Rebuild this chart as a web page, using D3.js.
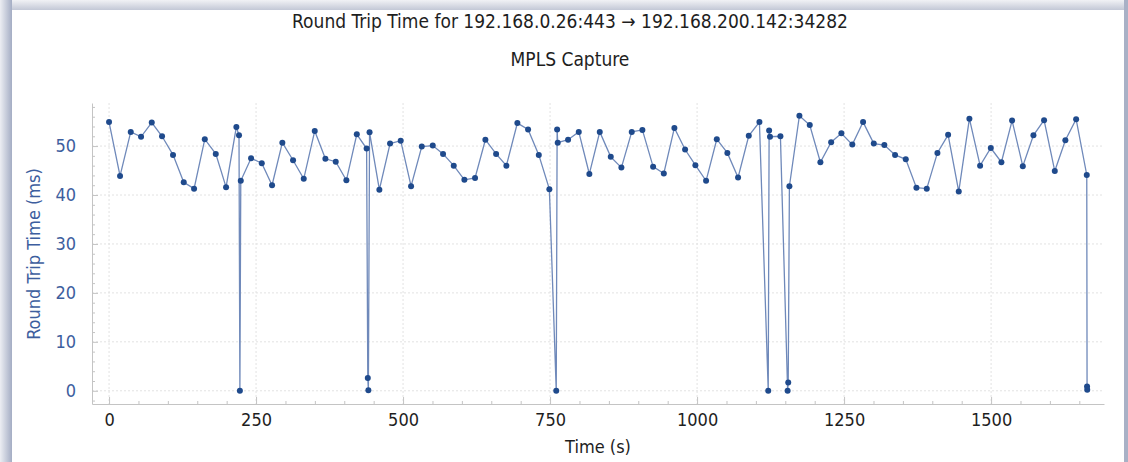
<!DOCTYPE html>
<html>
<head>
<meta charset="utf-8">
<script src="https://cdn.jsdelivr.net/npm/d3@7"></script>
<style>
  body { margin: 0; background: #fff; }
  svg { display: block; }
  .lbl { font-family: "DejaVu Sans Condensed", "DejaVu Sans", sans-serif; font-stretch: condensed; }
</style>
</head>
<body>
<svg class="chart"></svg>
<script>
var width = 1128, height = 462;

// time (s) of each sample
var times = [0, 18.7, 36.9, 54.4, 72.6, 90.1, 108.8, 127, 144.6, 162.8, 181.5, 199,
  216.5, 221, 222.5, 224,
  241.5, 259.7, 277.2, 294.7, 312.9, 331.1, 349.8, 367.9, 385.5, 403.6,
  421.3, 438, 440, 441, 443,
  459.7, 477.9, 496, 513.6, 531.8, 550.5, 568, 586.2, 604.3, 622.4, 640, 658.2, 675.7, 694.4, 712.6, 730.8, 748.8,
  760.5, 762, 763,
  780.6, 798.8, 816.8, 834.5, 853.2, 871.3, 888.9, 907, 925.2, 943.4, 961.4, 979.6, 997.1, 1015.3, 1033.5, 1051.5, 1069.7, 1087.9, 1106,
  1121, 1122.5, 1124, 1141.7,
  1154, 1155, 1157,
  1174, 1191.6, 1209.7, 1228, 1245.4,
  1264, 1282.3, 1300.5, 1318.5, 1336.7, 1354.9, 1373, 1390.6, 1408.7, 1426.9, 1445, 1463.1, 1481.3, 1499.5, 1517.5, 1535.7, 1553.9, 1572, 1590.1, 1608.3, 1626.3, 1644.6,
  1662.7, 1663.2, 1663.5];

// round trip time (ms)
var rtt = [54.9, 43.9, 52.9, 51.9, 54.8, 52, 48.2, 42.6, 41.3, 51.4, 48.4, 41.6,
  53.9, 52.2, 0, 42.9,
  47.5, 46.5, 42, 50.7, 47.1, 43.3, 53.1, 47.4, 46.8, 43,
  52.4, 49.5, 2.6, 0.1, 52.8,
  41.1, 50.5, 51.1, 41.8, 49.9, 50.1, 48.4, 46, 43.1, 43.5, 51.3, 48.4, 46, 54.7, 53.4, 48.2, 41.2,
  0, 53.4, 50.7,
  51.3, 52.9, 44.3, 52.9, 47.8, 45.6, 52.9, 53.3, 45.8, 44.4, 53.7, 49.3, 46.1, 42.9, 51.4, 48.6, 43.6, 52.1, 54.9,
  0, 53.2, 51.9, 52,
  0, 1.7, 41.8,
  56.2, 54.3, 46.7, 50.8, 52.6,
  50.3, 54.9, 50.5, 50.2, 48.2, 47.3, 41.5, 41.3, 48.6, 52.3, 40.7, 55.6, 46, 49.6, 46.7, 55.2, 45.9, 52.2, 55.3, 44.9, 51.2, 55.5,
  44.1, 0.9, 0.2];

var xTicks = [0, 250, 500, 750, 1000, 1250, 1500];
var yTicks = [0, 10, 20, 30, 40, 50];

var title = "Round Trip Time for 192.168.0.26:443 \u2192 192.168.200.142:34282";
var subtitle = "MPLS Capture";

var data = times.map(function(t, i) { return {t: t, v: rtt[i]}; });

var x = d3.scaleLinear().domain([-29, 1692]).range([92, 1104]);
var y = d3.scaleLinear().domain([-2.7, 58.8]).range([404, 103]);

var svg = d3.select(".chart")
    .attr("width", width)
    .attr("height", height);

// window frame
var defs = svg.append("defs");
var gl = defs.append("linearGradient").attr("id", "gl").attr("x1", 0).attr("x2", 1).attr("y1", 0).attr("y2", 0);
gl.append("stop").attr("offset", "0%").attr("stop-color", "#eceef3");
gl.append("stop").attr("offset", "100%").attr("stop-color", "#a4adc4");
var gt = defs.append("linearGradient").attr("id", "gt").attr("x1", 0).attr("x2", 0).attr("y1", 0).attr("y2", 1);
gt.append("stop").attr("offset", "0%").attr("stop-color", "#f1f2f5");
gt.append("stop").attr("offset", "100%").attr("stop-color", "#c3c8d6");

svg.append("rect").attr("width", width).attr("height", 10).attr("fill", "url(#gt)");
svg.append("rect").attr("width", 12).attr("height", height).attr("fill", "url(#gl)");
svg.append("rect").attr("x", 1124).attr("width", 4).attr("height", height).attr("fill", "#a9b1c6");

// grid
svg.append("g").selectAll("line").data(yTicks).enter().append("line")
    .attr("x1", 92).attr("x2", 1104)
    .attr("y1", function(d) { return y(d); }).attr("y2", function(d) { return y(d); })
    .attr("stroke", "#e2e2e2").attr("stroke-dasharray", "2,2");
svg.append("g").selectAll("line").data(xTicks).enter().append("line")
    .attr("y1", 103).attr("y2", 404)
    .attr("x1", function(d) { return x(d); }).attr("x2", function(d) { return x(d); })
    .attr("stroke", "#e2e2e2").attr("stroke-dasharray", "2,2");

// minor ticks
var yMinor = d3.range(-2, 59, 2).filter(function(d) { return d % 10 !== 0; });
var xMinor = d3.range(0, 1700, 50).filter(function(d) { return d % 250 !== 0; });

svg.append("g")
    .attr("transform", "translate(92,0)")
    .call(d3.axisLeft(y).tickValues(yMinor).tickSize(-3).tickFormat(""))
    .call(function(g) { g.select(".domain").remove(); })
    .selectAll("line").attr("stroke", "#c4c4c4");
svg.append("g")
    .attr("transform", "translate(0,404)")
    .call(d3.axisBottom(x).tickValues(xMinor).tickSize(-3).tickFormat(""))
    .call(function(g) { g.select(".domain").remove(); })
    .selectAll("line").attr("stroke", "#c4c4c4");

// y axis
var yAxis = svg.append("g")
    .attr("class", "lbl")
    .attr("transform", "translate(92,0)")
    .call(d3.axisLeft(y).tickValues(yTicks).tickFormat(d3.format("d"))
      .tickSizeInner(-6).tickSizeOuter(0).tickPadding(16));
yAxis.select(".domain").attr("stroke", "#c4c4c4");
yAxis.selectAll("line").attr("stroke", "#c4c4c4");
yAxis.selectAll("text").attr("fill", "#3d5e9e").style("font-size", "18px");

// x axis
var xAxis = svg.append("g")
    .attr("class", "lbl")
    .attr("transform", "translate(0,404)")
    .call(d3.axisBottom(x).tickValues(xTicks).tickFormat(d3.format("d"))
      .tickSizeInner(-7).tickSizeOuter(0).tickPadding(9));
xAxis.select(".domain").attr("stroke", "#c4c4c4");
xAxis.selectAll("line").attr("stroke", "#c4c4c4");
xAxis.selectAll("text").attr("fill", "#1e1e1e").style("font-size", "18px");

// series
var line = d3.line()
    .x(function(d) { return x(d.t); })
    .y(function(d) { return y(d.v); });

svg.append("path")
    .datum(data)
    .attr("d", line)
    .attr("fill", "none")
    .attr("stroke", "#6f89ba")
    .attr("stroke-width", 1.3);

svg.append("g").selectAll("circle")
    .data(data)
  .enter().append("circle")
    .attr("cx", function(d) { return x(d.t); })
    .attr("cy", function(d) { return y(d.v); })
    .attr("r", 3)
    .attr("fill", "#1f4a8c");

// titles
svg.append("text")
    .attr("class", "lbl")
    .attr("x", 570).attr("y", 28)
    .attr("text-anchor", "middle")
    .style("font-size", "19px")
    .attr("fill", "#1e1e1e")
    .text(title);

svg.append("text")
    .attr("class", "lbl")
    .attr("x", 570).attr("y", 66)
    .attr("text-anchor", "middle")
    .style("font-size", "19px")
    .attr("fill", "#1e1e1e")
    .text(subtitle);

svg.append("text")
    .attr("class", "lbl")
    .attr("transform", "translate(40,254) rotate(-90)")
    .attr("text-anchor", "middle")
    .style("font-size", "18px")
    .attr("fill", "#3d5e9e")
    .text("Round Trip Time (ms)");

svg.append("text")
    .attr("class", "lbl")
    .attr("x", 598).attr("y", 453)
    .attr("text-anchor", "middle")
    .style("font-size", "18px")
    .attr("fill", "#1e1e1e")
    .text("Time (s)");
</script>
</body>
</html>
